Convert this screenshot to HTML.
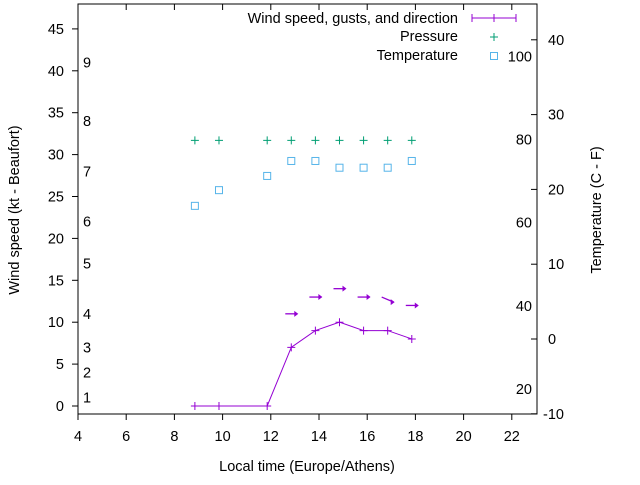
<!DOCTYPE html>
<html><head><meta charset="utf-8"><style>body{margin:0;background:#fff}svg{font-family:"Liberation Sans",sans-serif}</style></head>
<body>
<svg id="c" width="640" height="480"></svg>
<script>
const times=[8.85,9.85,11.85,12.85,13.85,14.85,15.85,16.85,17.85];
const wind=[0,0,0,7,9,10,9,9,8];
const gustTimes=[12.85,13.85,14.85,15.85,16.85,17.85];
const gusts=[11,13,14,13,13,12];
const gustDy=[0,0,0,0,0.15,0];
const pressure=[31.7,31.7,31.7,31.7,31.7,31.7,31.7,31.7,31.7];
const temps=[17.8,19.9,21.8,23.8,23.8,22.9,22.9,22.9,23.8];
const xTicks=[4,6,8,10,12,14,16,18,20,22];
const yTicks=[0,5,10,15,20,25,30,35,40,45];
const y2Ticks=[-10,0,10,20,30,40];
const beaufortLabels=["1","2","3","4","5","6","7","8","9"];
const beaufortKt=[1,4,7,11,17,22,28,34,41];
const fLabels=[20,40,60,80,100];

const L=78,R=537,T=4,B=414;
const X=v=>78+(v-4)*24.1;
const Y=v=>406-v*8.38;
const Y2=v=>339-v*7.48;
const svg=document.getElementById('c');
const NS='http://www.w3.org/2000/svg';
function mk(t,a,p){const e=document.createElementNS(NS,t);for(const k in a)e.setAttribute(k,a[k]);(p||svg).appendChild(e);return e;}
function txt(x,y,s,anchor,name,extra){const e=mk('text',Object.assign({x:x,y:y,'font-size':14.5,'text-anchor':anchor,fill:'#000'},extra||{}));e.textContent=s;return e;}
const purple='#9400d3';
const f=mk('rect',{x:L,y:T,width:R-L,height:B-T,fill:'none',stroke:'#000','stroke-width':1});

xTicks.forEach(v=>{const x=X(v);mk('line',{x1:x,y1:B,x2:x,y2:B+6,stroke:'#000'});mk('line',{x1:x,y1:T,x2:x,y2:T+6,stroke:'#000'});txt(x,441,String(v),'middle','x-tick-label');});
yTicks.forEach(v=>{const y=Y(v);mk('line',{x1:L-6,y1:y,x2:L,y2:y,stroke:'#000'});txt(64,y+5,String(v),'end','y-tick-label');});
y2Ticks.forEach(v=>{const y=Y2(v);mk('line',{x1:R-6,y1:y,x2:R,y2:y,stroke:'#000'});txt(v<0?543:548,y+5,String(v),'start','y2-tick-label');});
beaufortLabels.forEach((s,i)=>txt(83,Y(beaufortKt[i])+5,s,'start','beaufort-label'));
fLabels.forEach(v=>txt(532,Y2((v-32)*5/9)+5,String(v),'end','fahrenheit-label'));
txt(307,471,'Local time (Europe/Athens)','middle','x-axis-title');
const yt=txt(19,210,'Wind speed (kt - Beaufort)','middle','y-axis-title');yt.setAttribute('transform','rotate(-90 19 210)');
const y2t=txt(601,210,'Temperature (C - F)','middle','y2-axis-title');y2t.setAttribute('transform','rotate(-90 601 210)');
const pl=mk('polyline',{points:times.map((t,i)=>X(t)+','+Y(wind[i])).join(' '),fill:'none',stroke:purple,'stroke-width':1});

times.forEach((t,i)=>{const x=X(t),y=Y(wind[i]);const g=mk('path',{d:`M${x-4},${y}h8M${x},${y-4}v8`,stroke:purple,'stroke-width':1});});
gustTimes.forEach((t,i)=>{const x=X(t),y=Y(gusts[i]);const y2=Y(gusts[i]-gustDy[i]*4);const g=mk('g',{});
mk('line',{x1:x-6,y1:y,x2:x+6,y2:y2,stroke:purple,'stroke-width':1.3},g);mk('path',{d:`M${x+7},${y2}l-4,-3v6z`,fill:purple},g);});
pressure.forEach((p,i)=>{const x=X(times[i]),y=Y(p);const g=mk('path',{d:`M${x-4},${y}h8M${x},${y-4}v8`,stroke:'#009e73','stroke-width':1});});
temps.forEach((t,i)=>{const x=X(times[i]),y=Y2(t);const r=mk('rect',{x:x-3.5,y:y-3.5,width:7,height:7,fill:'none',stroke:'#56b4e9','stroke-width':1});});
txt(458,23,'Wind speed, gusts, and direction','end','legend-wind');
mk('path',{d:'M472,18h44M472,14v8M516,14v8M494,14v8',stroke:purple,fill:'none'});
txt(458,41,'Pressure','end','legend-pressure');
mk('path',{d:'M490,37h8M494,33v8',stroke:'#009e73'});
txt(458,60,'Temperature','end','legend-temperature');
mk('rect',{x:490.5,y:52.5,width:7,height:7,fill:'none',stroke:'#56b4e9'});
</script>
</body></html>
